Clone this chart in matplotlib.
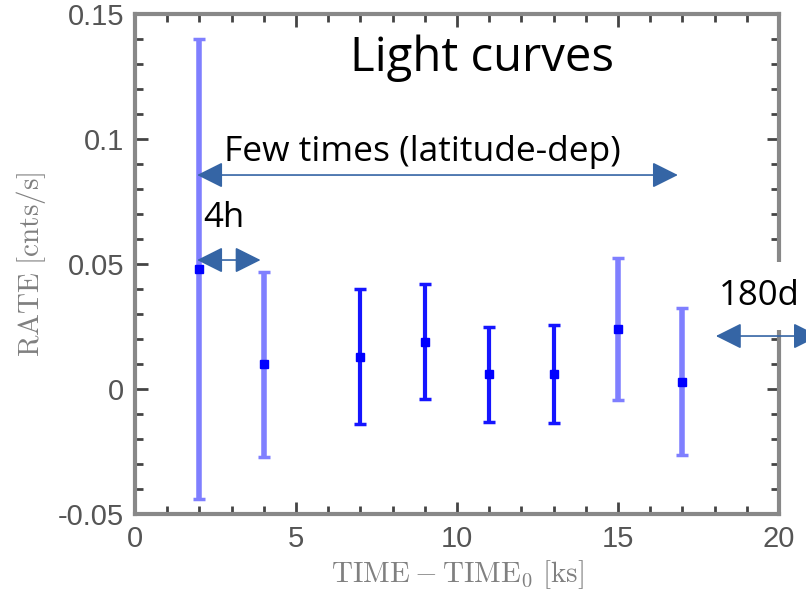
import matplotlib
matplotlib.use("Agg")
import matplotlib.pyplot as plt
from matplotlib.ticker import MultipleLocator

plt.rcParams['mathtext.fontset'] = 'cm'

# light curve points
t = [2, 4, 7, 9, 11, 13, 15, 17]
rate = [0.048, 0.010, 0.013, 0.019, 0.006, 0.006, 0.024, 0.003]
err = [0.092, 0.037, 0.027, 0.023, 0.019, 0.0195, 0.0285, 0.0295]
faint = [True, True, False, False, False, False, True, True]

xticks = [0, 5, 10, 15, 20]
xticklabels = ['0', '5', '10', '15', '20']
yticks = [-0.05, 0, 0.05, 0.1, 0.15]
yticklabels = ['-0.05', '0', '0.05', '0.1', '0.15']

# annotation arrows: (x start, x end, y)
arrows = [(1.93, 16.86, 0.0856), (1.93, 3.9, 0.0516), (18.04, 21.24, 0.0212)]

fig = plt.figure(figsize=(8.06, 5.97), dpi=100)
ax = fig.add_axes([0.1675, 0.139, 0.799, 0.8375])

for i in range(len(t)):
    if faint[i]:
        c, lw = '#7f7fff', 4
    else:
        c, lw = '#1515ff', 3
    ax.errorbar(t[i], rate[i], yerr=err[i], fmt='none', ecolor=c,
                elinewidth=lw, capsize=4, capthick=2.5, zorder=2)
ax.plot(t, rate, 's', color='#0000ff', markersize=6, zorder=3)

ax.set_xlim(0, 20)
ax.set_ylim(-0.05, 0.15)
ax.set_xticks(xticks)
ax.set_xticklabels(xticklabels)
ax.set_yticks(yticks)
ax.set_yticklabels(yticklabels)
ax.xaxis.set_minor_locator(MultipleLocator(1))
ax.yaxis.set_minor_locator(MultipleLocator(0.01))
ax.tick_params(which='both', direction='in', top=True, right=True,
               color='#444444', labelsize=21, labelcolor='#555555', pad=8)
ax.tick_params(which='major', length=9, width=2)
ax.tick_params(which='minor', length=6, width=2)
for lab in ax.get_xticklabels() + ax.get_yticklabels():
    lab.set_family('Liberation Sans')
for s in ax.spines.values():
    s.set_color('#888888')
    s.set_linewidth(3)

ax.set_xlabel(r'$\mathrm{TIME-TIME_0\ [ks]}$', fontsize=21, color='#808080', labelpad=4)
ax.set_ylabel(r'$\mathrm{RATE\ [cnts/s]}$', fontsize=21, color='#808080', labelpad=7)

acol = '#3565a5'
for x0, x1, y in arrows:
    ax.annotate('', xy=(x1, y), xytext=(x0, y), annotation_clip=False,
                arrowprops=dict(arrowstyle='<|-|>,head_length=0.8,head_width=0.4',
                                color=acol, lw=1.2, shrinkA=0, shrinkB=0,
                                mutation_scale=20), zorder=6)

tf = 'Open Sans'
ax.text(10.78, 0.1325, 'Light curves', fontsize=34, family=tf, ha='center', va='center')
ax.text(8.94, 0.0948, 'Few times (latitude-dep)', fontsize=25.5, family=tf, ha='center', va='center')
ax.text(2.76, 0.0684, '4h', fontsize=25, family=tf, ha='center', va='center')
ax.text(19.38, 0.0372, '180d', fontsize=25, family=tf, ha='center', va='center',
        clip_on=False, zorder=5,
        bbox=dict(boxstyle='square,pad=0.5', fc='white', ec='none'))

fig.savefig('out.png', dpi=100)
